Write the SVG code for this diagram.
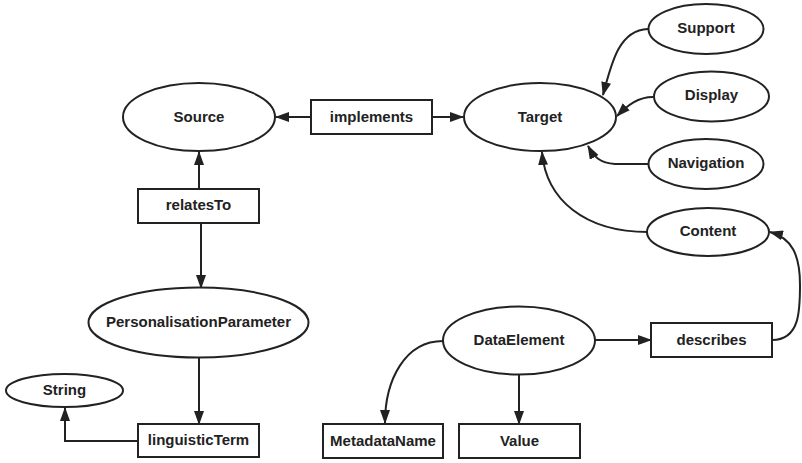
<svg xmlns="http://www.w3.org/2000/svg" width="802" height="463" viewBox="0 0 802 463">
<style>
.n ellipse,.n rect{fill:#fff;stroke:#222;stroke-width:2}
.n text{font-family:"Liberation Sans",Arial,sans-serif;font-weight:bold;font-size:15px;fill:#222;text-anchor:middle}
.c path{fill:none;stroke:#222;stroke-width:2;marker-end:url(#ah)}
</style>
<defs>
<marker id="ah" viewBox="0 0 14 10" refX="13" refY="5" markerWidth="14" markerHeight="10" markerUnits="userSpaceOnUse" orient="auto">
<path d="M0,0 L14,5 L0,10 Z" fill="#222"/>
</marker>
</defs>
<rect width="802" height="463" fill="#fff"/>
<g class="c">
<path d="M311,117 L276,117"/>
<path d="M432,117 L463,117"/>
<path d="M199,189 L199,152"/>
<path d="M201,223 L201,288"/>
<path d="M199,358 L199,424"/>
<path d="M138,441 L65,441 L65,408"/>
<path d="M519,375 L519,424"/>
<path d="M443,341 C405,341 385,380 385,423"/>
<path d="M595,340 L651,340"/>
<path d="M772,340 C800,340 800,310 800,285 C800,255 792,238 770,232"/>
<path d="M648,29 C620,30 612,60 603,95"/>
<path d="M653,97 C638,97 628,105 617,116"/>
<path d="M648,164 L615,164 C600,163 594,157 588,146"/>
<path d="M648,232 C585,232 546,200 542,152"/>
</g>
<g id="source" class="n"><ellipse cx="199" cy="117" rx="76" ry="34"/><text x="199" y="122">Source</text></g>
<g id="implements" class="n"><rect x="311" y="100" width="121" height="34"/><text x="371.5" y="122">implements</text></g>
<g id="target" class="n"><ellipse cx="540" cy="117" rx="76" ry="34"/><text x="540" y="122">Target</text></g>
<g id="support" class="n"><ellipse cx="706" cy="29" rx="57.5" ry="25"/><text x="706" y="33">Support</text></g>
<g id="display" class="n"><ellipse cx="711.5" cy="96.5" rx="57.5" ry="25"/><text x="711.5" y="100">Display</text></g>
<g id="navigation" class="n"><ellipse cx="706" cy="164" rx="57.5" ry="25"/><text x="706" y="168">Navigation</text></g>
<g id="content" class="n"><ellipse cx="708" cy="232" rx="61" ry="24"/><text x="708" y="236">Content</text></g>
<g id="relatesTo" class="n"><rect x="138" y="189" width="121" height="34"/><text x="198.5" y="210">relatesTo</text></g>
<g id="personalisationParameter" class="n"><ellipse cx="198.5" cy="322.5" rx="110" ry="35"/><text x="198.5" y="327">PersonalisationParameter</text></g>
<g id="string" class="n"><ellipse cx="64.5" cy="390.5" rx="58.5" ry="16.5"/><text x="64.5" y="395">String</text></g>
<g id="linguisticTerm" class="n"><rect x="138" y="424" width="121" height="33"/><text x="198.5" y="445">linguisticTerm</text></g>
<g id="dataElement" class="n"><ellipse cx="519" cy="340.5" rx="76" ry="34"/><text x="519" y="345">DataElement</text></g>
<g id="describes" class="n"><rect x="651" y="323" width="121" height="34"/><text x="711.5" y="345">describes</text></g>
<g id="metadataName" class="n"><rect x="323" y="424" width="120" height="34"/><text x="383" y="446">MetadataName</text></g>
<g id="value" class="n"><rect x="459" y="424" width="121" height="34"/><text x="519.5" y="446">Value</text></g>
</svg>
